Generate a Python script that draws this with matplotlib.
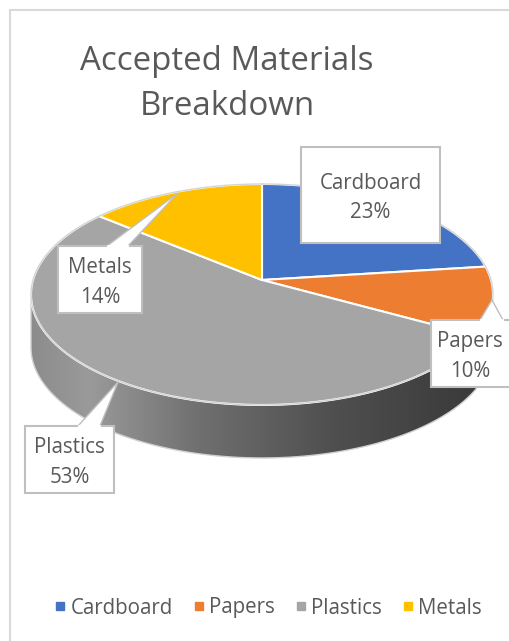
import numpy as np
import matplotlib.pyplot as plt
from matplotlib.colors import LinearSegmentedColormap
from matplotlib.lines import Line2D
from matplotlib.patches import Polygon, Rectangle

plt.rcParams['font.family'] = ['Open Sans', 'DejaVu Sans']

# chart data
materials = ['Cardboard', 'Papers', 'Plastics', 'Metals']
shares = [23, 10, 53, 14]
colors = ['#4472c4', '#ed7d31', '#a5a5a5', '#ffc000']
title = 'Accepted Materials\nBreakdown'

# pie geometry in pixels, the disc is tilted so the centre sits above the middle
cx, cy = 262, 280
rx, ry = 229, 108.6
tilt = 0.131
depth = 53
text_color = '#595959'
line_color = '#bfbfbf'

# label boxes: left, top, right, bottom and the callout (base x0, base x1, tip)
boxes = {
    'Cardboard': ((301, 147, 440, 243), None),
    'Papers': ((431, 320, 515, 387), ((480, 320), (503, 320), (492, 300))),
    'Plastics': ((25, 426, 114, 493), ((78, 426), (100, 426), (118, 382))),
    'Metals': ((58, 246, 142, 313), ((107, 246), (128, 246), (178, 193))),
}


def project(theta):
    # clockwise angle from the top of the pie -> pixel position
    w = 1 + tilt * np.cos(theta)
    return cx + rx * np.sin(theta) / w, cy - ry * np.cos(theta) / w


fig = plt.figure(figsize=(5.09, 6.41), dpi=100)
ax = fig.add_axes([0, 0, 1, 1])
ax.set_xlim(0, 509)
ax.set_ylim(641, 0)
ax.axis('off')

# chart frame
ax.plot([10, 10, 509], [641, 10, 10], color='#d9d9d9', lw=1.5, zorder=1)

bounds = np.cumsum([0] + shares) / np.sum(shares) * 2 * np.pi

# side wall of the plastics slice with its dark gradient
plastics = materials.index('Plastics')
left_edge = 2 * np.pi - np.arccos(-tilt)
t = np.linspace(bounds[plastics], left_edge, 200)
x, y = project(t)
wall = np.column_stack([np.r_[x, x[::-1]], np.r_[y, y[::-1] + depth]])
grad = LinearSegmentedColormap.from_list('wall', [
    (0.0, '#8c8c8c'), (0.13, '#9a9a9a'), (0.38, '#6f6f6f'),
    (0.68, '#4f4f4f'), (1.0, '#3a3a3a')])
img = ax.imshow(np.linspace(0, 1, 256)[None, :], cmap=grad, aspect='auto',
                extent=(31, 476, 460, 280), zorder=2)
clip = Polygon(wall, closed=True, transform=ax.transData)
img.set_clip_path(clip)
ax.add_patch(Polygon(wall, closed=True, fill=False, edgecolor='#d0d0d0', lw=1, zorder=3))
# imshow resets the limits
ax.set_xlim(0, 509)
ax.set_ylim(641, 0)

# top of the pie
for i, name in enumerate(materials):
    t = np.linspace(bounds[i], bounds[i + 1], 120)
    x, y = project(t)
    pts = np.column_stack([np.r_[cx, x], np.r_[cy, y]])
    ax.add_patch(Polygon(pts, closed=True, facecolor=colors[i], edgecolor='white',
                         lw=1.5, joinstyle='round', zorder=4))
t = np.linspace(0, 2 * np.pi, 400)
ax.plot(*project(t), color='#d4d4d4', lw=1, zorder=5)

# data labels
for name, value in zip(materials, shares):
    (x0, y0, x1, y1), callout = boxes[name]
    ax.add_patch(Rectangle((x0, y0), x1 - x0, y1 - y0, facecolor='white',
                           edgecolor=line_color, lw=1.5, zorder=6))
    if callout is not None:
        ax.add_patch(Polygon(callout, closed=True, facecolor='white',
                             edgecolor='none', zorder=7))
        (ax0, ay0), (ax1, ay1), tip = callout
        ax.plot([ax0, tip[0], ax1], [ay0, tip[1], ay1], color=line_color, lw=1, zorder=7)
        ax.plot([ax0 + 1, ax1 - 1], [ay0, ay1], color='white', lw=2, zorder=8)
    mid = min(x1, 509)
    ax.text((x0 + mid) / 2, (y0 + y1) / 2 + 3, f'{name}\n{value}%', ha='center', va='center',
            color=text_color, fontsize=14.8, linespacing=1.55, zorder=9)

ax.text(227, 84, title, ha='center', va='center', color=text_color, fontsize=23.8,
        linespacing=1.45)

handles = [Line2D([], [], linestyle='none', marker='s', markersize=5.8, color=c) for c in colors]
ax.legend(handles, materials, ncol=4, loc='center', bbox_to_anchor=(268, 608),
          bbox_transform=ax.transData, frameon=False, fontsize=14.8,
          labelcolor=text_color, handlelength=0.6, handletextpad=0.2, columnspacing=0.96,
          borderpad=0)

fig.savefig('out.png', dpi=100)
